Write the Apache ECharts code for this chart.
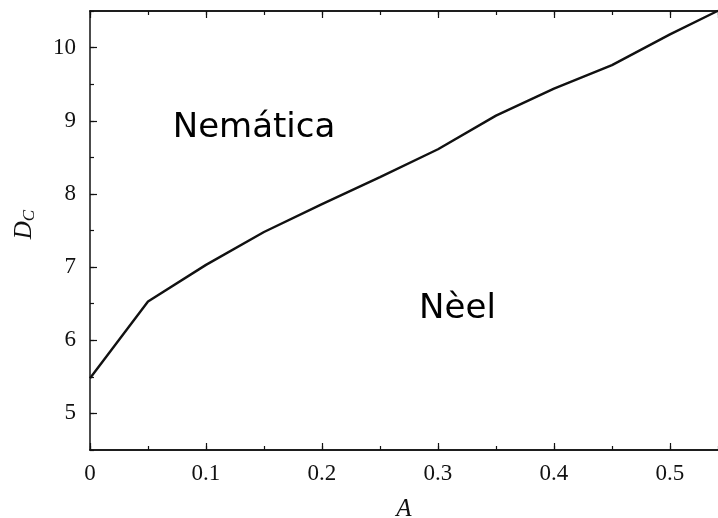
<!DOCTYPE html>
<html>
<head>
<meta charset="utf-8">
<script src="https://cdn.jsdelivr.net/npm/echarts@6/dist/echarts.min.js"></script>
<style>
  html, body { margin: 0; padding: 0; background: #fff; overflow: hidden; }
  #chart { width: 718px; height: 518px; }
</style>
</head>
<body>
<div id="chart"></div>
<script>
// Critical coupling D_C versus anisotropy A (phase boundary)
const aValues = [0, 0.05, 0.1, 0.15, 0.2, 0.25, 0.3, 0.35, 0.4, 0.45, 0.5, 0.55];
const dcValues = [5.48, 6.53, 7.03, 7.48, 7.86, 8.23, 8.61, 9.07, 9.44, 9.76, 10.18, 10.57];

// Axis ranges
const xRange = [0, 0.5414];
const yRange = [4.5, 10.5];

// Phase region labels: name, A, D_C
const regionNames = ['Nemática', 'Nèel'];
const regionA = [0.1414, 0.3168];
const regionD = [8.9, 6.43];

const serif = '"Liberation Serif", "DejaVu Serif", serif';
const sans = '"DejaVu Sans", sans-serif';
const ink = '#111';

const lineData = aValues.map((a, i) => [a, dcValues[i]]);
const labelData = regionNames.map((n, i) => ({ name: n, value: [regionA[i], regionD[i]] }));

const gridBox = { left: 90, right: 0, top: 11, bottom: 68, containLabel: false, outerBoundsMode: 'none' };
const axisLineStyle = { show: true, lineStyle: { color: ink, width: 1.5 } };

function xAxisDef(grid, position, interval, tickLen, withLabels) {
  return {
    type: 'value', gridIndex: grid, position: position,
    min: xRange[0], max: xRange[1], interval: interval,
    axisLine: axisLineStyle,
    axisTick: { show: true, inside: true, length: tickLen, lineStyle: { color: ink, width: 1.2 } },
    axisLabel: withLabels ? {
      show: true, margin: 12, fontFamily: serif, fontSize: 23, color: ink,
      showMaxLabel: false,
      formatter: v => String(+v.toFixed(2))
    } : { show: false },
    splitLine: { show: false },
    name: withLabels ? 'A' : '',
    nameLocation: 'middle', nameGap: 47,
    nameTextStyle: { fontFamily: serif, fontStyle: 'italic', fontSize: 25, color: ink }
  };
}

const option = {
  animation: false,
  backgroundColor: '#fff',
  // grid 0: major ticks + labels; grid 1 (same box): minor ticks
  grid: [Object.assign({}, gridBox), Object.assign({}, gridBox)],
  xAxis: [
    xAxisDef(0, 'bottom', 0.1, 7, true),
    xAxisDef(0, 'top', 0.1, 7, false),
    xAxisDef(1, 'bottom', 0.05, 4, false),
    xAxisDef(1, 'top', 0.05, 4, false)
  ],
  yAxis: [
    {
      type: 'value', gridIndex: 0, position: 'left', min: yRange[0], max: yRange[1],
      axisLine: axisLineStyle,
      axisTick: { show: true, inside: true, length: 7, lineStyle: { color: ink, width: 1.2 } },
      axisLabel: {
        show: true, margin: 14, fontFamily: serif, fontSize: 23, color: ink,
        showMinLabel: false, showMaxLabel: false
      },
      splitLine: { show: false },
      name: '{d|D}{s|C}',
      nameLocation: 'middle', nameGap: 52, nameRotate: 90,
      nameTextStyle: {
        padding: [0, 0, 0, 12],
        rich: {
          d: { fontFamily: serif, fontStyle: 'italic', fontSize: 25, color: ink },
          s: { fontFamily: serif, fontStyle: 'italic', fontSize: 17, color: ink, verticalAlign: 'bottom', padding: [10, 0, 0, 0] }
        }
      }
    },
    {
      type: 'value', gridIndex: 1, position: 'left', min: yRange[0], max: yRange[1], interval: 0.5,
      axisLine: { show: false },
      axisTick: { show: true, inside: true, length: 4, lineStyle: { color: ink, width: 1.2 } },
      axisLabel: { show: false },
      splitLine: { show: false }
    }
  ],
  series: [
    {
      type: 'line', xAxisIndex: 0, yAxisIndex: 0,
      data: lineData, showSymbol: false, clip: true,
      lineStyle: { color: ink, width: 2.4 }
    },
    {
      type: 'scatter', xAxisIndex: 0, yAxisIndex: 0,
      data: labelData, symbolSize: 0, silent: true,
      itemStyle: { opacity: 1 },
      label: {
        show: true, position: 'inside', formatter: p => p.name,
        fontFamily: sans, fontSize: 34, color: '#000', opacity: 1
      }
    }
  ]
};

const chart = echarts.init(document.getElementById('chart'), null, { renderer: 'canvas' });
chart.setOption(option);
</script>
</body>
</html>
